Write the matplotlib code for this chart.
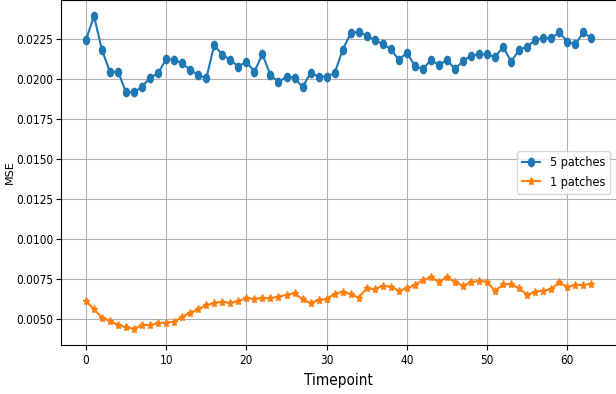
import matplotlib
matplotlib.use("Agg")
import matplotlib.pyplot as plt
from matplotlib import font_manager
from matplotlib.markers import MarkerStyle
from matplotlib.transforms import Affine2D

timepoints = list(range(64))

mse_5_patches = [
    0.02241, 0.02391, 0.02179, 0.02040, 0.02044, 0.01915, 0.01915, 0.01950, 0.02006, 0.02034,
    0.02123, 0.02117, 0.02096, 0.02054, 0.02023, 0.02003, 0.02210, 0.02148, 0.02117, 0.02075,
    0.02106, 0.02044, 0.02152, 0.02023, 0.01978, 0.02013, 0.02006, 0.01946, 0.02037, 0.02013,
    0.02013, 0.02034, 0.02180, 0.02283, 0.02293, 0.02268, 0.02241, 0.02216, 0.02185, 0.02117,
    0.02162, 0.02081, 0.02059, 0.02117, 0.02085, 0.02117, 0.02060, 0.02110, 0.02143, 0.02152,
    0.02152, 0.02133, 0.02200, 0.02106, 0.02180, 0.02200, 0.02241, 0.02252, 0.02252, 0.02289,
    0.02231, 0.02214, 0.02289, 0.02252,
]

mse_1_patches = [
    0.00614, 0.00562, 0.00510, 0.00489, 0.00464, 0.00450, 0.00440, 0.00464, 0.00464, 0.00475,
    0.00479, 0.00485, 0.00516, 0.00541, 0.00562, 0.00589, 0.00600, 0.00610, 0.00600, 0.00614,
    0.00631, 0.00627, 0.00631, 0.00631, 0.00641, 0.00652, 0.00662, 0.00625, 0.00600, 0.00620,
    0.00625, 0.00659, 0.00672, 0.00656, 0.00635, 0.00693, 0.00687, 0.00709, 0.00703, 0.00678,
    0.00693, 0.00714, 0.00745, 0.00762, 0.00734, 0.00762, 0.00734, 0.00708, 0.00731, 0.00739,
    0.00734, 0.00676, 0.00718, 0.00718, 0.00693, 0.00652, 0.00672, 0.00678, 0.00687, 0.00731,
    0.00700, 0.00714, 0.00714, 0.00720,
]

labels = ["5 patches", "1 patches"]

# the reference looks squeezed sideways, so look for any narrow/condensed sans face
narrow_path = None
for f in font_manager.fontManager.ttflist:
    base = f.fname.split("/")[-1].lower()
    if ("narrow" in base or "condensed" in base) and f.style == "normal" and f.weight in (400, "normal", "regular"):
        if "serif" in base and "sans" not in base:
            continue
        narrow_path = f.fname
        break

if narrow_path:
    tick_font = font_manager.FontProperties(fname=narrow_path, size=8.5)
    label_font = font_manager.FontProperties(fname=narrow_path, size=11)
    legend_font = font_manager.FontProperties(fname=narrow_path, size=9)
else:
    tick_font = font_manager.FontProperties(family="Liberation Sans", size=8.5)
    label_font = font_manager.FontProperties(family="Liberation Sans", size=10)
    legend_font = font_manager.FontProperties(family="Liberation Sans", size=8.5)

squash = Affine2D().scale(0.72, 1.0)
dot = MarkerStyle("o", transform=squash)
star = MarkerStyle("*", transform=squash)

fig = plt.figure(figsize=(6.16, 3.94), dpi=100)
ax = fig.add_axes([0.0985, 0.1256, 0.9025, 0.8736])

ax.plot(timepoints, mse_5_patches, marker=dot, color="#1f77b4", label=labels[0])
ax.plot(timepoints, mse_1_patches, marker=star, color="#ff7f0e", label=labels[1])

ax.grid(True)
ax.tick_params(axis="y", pad=2)
for lbl in ax.get_xticklabels() + ax.get_yticklabels():
    lbl.set_fontproperties(tick_font)

ax.set_xlabel("Timepoint", fontproperties=label_font)
ax.set_ylabel("MSE", fontsize=8, family="DejaVu Sans")
ax.yaxis.set_label_coords(-0.083, 0.5)
ax.xaxis.set_label_coords(0.5, -0.083)

ax.legend(loc="center right", prop=legend_font, handlelength=1.4)

fig.savefig("out.png", dpi=100)
